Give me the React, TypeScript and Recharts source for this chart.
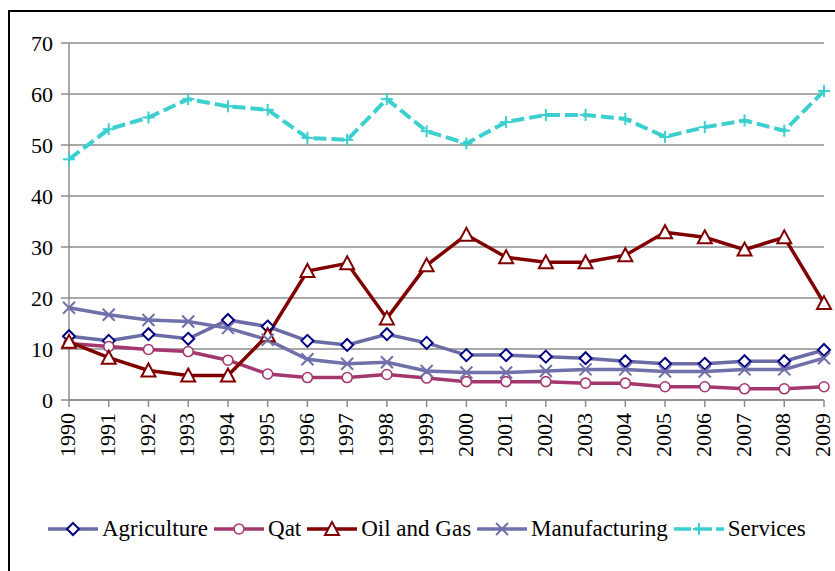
import React from 'react';
import { LineChart, Line, XAxis, YAxis, CartesianGrid, Legend } from 'recharts';

const years = ['1990', '1991', '1992', '1993', '1994', '1995', '1996', '1997', '1998', '1999',
  '2000', '2001', '2002', '2003', '2004', '2005', '2006', '2007', '2008', '2009'];

const agriculture = [12.5, 11.6, 12.9, 12.0, 15.7, 14.4, 11.6, 10.8, 12.9, 11.2,
  8.8, 8.8, 8.5, 8.2, 7.6, 7.1, 7.1, 7.6, 7.6, 9.8];
const qat = [11.1, 10.5, 9.9, 9.5, 7.8, 5.1, 4.4, 4.4, 5.0, 4.3,
  3.6, 3.6, 3.6, 3.3, 3.3, 2.6, 2.6, 2.2, 2.2, 2.6];
const oilAndGas = [11.4, 8.3, 5.8, 4.8, 4.8, 12.7, 25.3, 26.8, 16.0, 26.4,
  32.4, 28.0, 27.0, 27.0, 28.4, 32.9, 31.9, 29.5, 31.9, 19.0];
const manufacturing = [18.1, 16.7, 15.7, 15.4, 14.1, 11.8, 8.0, 7.1, 7.4, 5.7,
  5.4, 5.4, 5.7, 6.0, 6.0, 5.6, 5.6, 6.0, 6.0, 8.2];
const services = [47.2, 53.1, 55.4, 59.0, 57.6, 56.9, 51.4, 51.0, 59.0, 52.7,
  50.3, 54.5, 55.9, 55.9, 55.1, 51.6, 53.5, 54.8, 52.8, 60.6];

const yTicks = [0, 10, 20, 30, 40, 50, 60, 70];

const chartData = years.map((year, i) => ({
  year,
  agriculture: agriculture[i],
  qat: qat[i],
  oil: oilAndGas[i],
  manufacturing: manufacturing[i],
  services: services[i],
}));

const FONT = "'Liberation Serif', 'DejaVu Serif', serif";

type MarkerKind = 'diamond' | 'circle' | 'triangle' | 'cross' | 'plus';

const Marker = ({ kind, cx, cy, color }: { kind: MarkerKind; cx: number; cy: number; color: string }) => {
  if (kind === 'diamond') {
    return <polygon points={`${cx},${cy - 6} ${cx + 6},${cy} ${cx},${cy + 6} ${cx - 6},${cy}`} fill="#fff" stroke={color} strokeWidth={2} />;
  }
  if (kind === 'circle') {
    return <circle cx={cx} cy={cy} r={5} fill="#fff" stroke={color} strokeWidth={1.6} />;
  }
  if (kind === 'triangle') {
    return <polygon points={`${cx},${cy - 7} ${cx + 7},${cy + 6} ${cx - 7},${cy + 6}`} fill="#fff" stroke={color} strokeWidth={2} />;
  }
  if (kind === 'cross') {
    return (
      <g stroke={color} strokeWidth={2}>
        <line x1={cx - 6} y1={cy - 6} x2={cx + 6} y2={cy + 6} />
        <line x1={cx - 6} y1={cy + 6} x2={cx + 6} y2={cy - 6} />
      </g>
    );
  }
  return (
    <g stroke={color} strokeWidth={2}>
      <line x1={cx - 6} y1={cy} x2={cx + 6} y2={cy} />
      <line x1={cx} y1={cy - 6} x2={cx} y2={cy + 6} />
    </g>
  );
};

const seriesList = [
  { key: 'agriculture', name: 'Agriculture', line: '#6B6BA6', marker: '#000080', kind: 'diamond' as MarkerKind, dash: undefined },
  { key: 'qat', name: 'Qat', line: '#A3386F', marker: '#A3386F', kind: 'circle' as MarkerKind, dash: undefined },
  { key: 'oil', name: 'Oil and Gas', line: '#800000', marker: '#800000', kind: 'triangle' as MarkerKind, dash: undefined },
  { key: 'manufacturing', name: 'Manufacturing', line: '#7070AA', marker: '#7070AA', kind: 'cross' as MarkerKind, dash: undefined },
  { key: 'services', name: 'Services', line: '#3CCFCF', marker: '#3CCFCF', kind: 'plus' as MarkerKind, dash: '13 5' },
];

// rotated year labels, reading bottom-to-top
const YearTick = ({ x, y, payload }: any) => (
  <text
    x={x}
    y={y}
    transform={`rotate(-90, ${x}, ${y})`}
    textAnchor="end"
    dy="0.28em"
    style={{ fontFamily: FONT, fontSize: 22 }}
    fill="#000"
  >
    {payload.value}
  </text>
);

const ChartLegend = () => (
  <div style={{ display: 'flex', alignItems: 'center', fontFamily: FONT, fontSize: 23, color: '#000', whiteSpace: 'nowrap' }}>
    {seriesList.map((s) => (
      <div key={s.key} style={{ display: 'flex', alignItems: 'center', marginRight: 6 }}>
        <svg width={50} height={20} style={{ marginRight: 4 }}>
          <line x1={0} y1={10} x2={50} y2={10} stroke={s.line} strokeWidth={3.5} strokeDasharray={s.dash ? '17 4' : undefined} />
          <Marker kind={s.kind} cx={25} cy={10} color={s.marker} />
        </svg>
        <span>{s.name}</span>
      </div>
    ))}
  </div>
);

const App: React.FC = () => {
  return (
    <div style={{ position: 'absolute', left: 0, top: 0, width: 835, height: 571, overflow: 'hidden', background: '#fff', fontFamily: FONT }}>
      <div style={{ position: 'absolute', left: 8, top: 10, width: 900, height: 700, border: '2px solid #000', boxSizing: 'border-box' }} />
      <div style={{ position: 'absolute', left: 0, top: 0 }}>
        <LineChart width={835} height={571} data={chartData} margin={{ top: 43, right: 11, left: 9, bottom: 111 }}>
          <CartesianGrid vertical={false} stroke="#8C8C8C" strokeWidth={1.5} />
          <XAxis
            dataKey="year"
            interval={0}
            height={60}
            axisLine={{ stroke: '#8C8C8C', strokeWidth: 1.5 }}
            tickLine={{ stroke: '#8C8C8C', strokeWidth: 1.5 }}
            tickSize={7}
            tickMargin={6}
            tick={<YearTick />}
          />
          <YAxis
            domain={[0, 70]}
            ticks={yTicks}
            width={60}
            axisLine={{ stroke: '#8C8C8C', strokeWidth: 1.5 }}
            tickLine={{ stroke: '#8C8C8C', strokeWidth: 1.5 }}
            tickSize={8}
            tickMargin={8}
            tick={{ style: { fontFamily: FONT }, fontSize: 22, fill: '#000' }}
          />
          <Legend
            layout="horizontal"
            verticalAlign="middle"
            align="center"
            content={<ChartLegend />}
            wrapperStyle={{ position: 'absolute', left: 48, top: 516, width: 790, height: 26 }}
          />
          {seriesList.map((s) => (
            <Line
              key={s.key}
              type="linear"
              dataKey={s.key}
              name={s.name}
              stroke={s.line}
              strokeWidth={s.kind === 'plus' ? 4 : 3.5}
              strokeDasharray={s.dash}
              isAnimationActive={false}
              dot={(p: any) => <Marker key={`${s.key}-${p.index}`} kind={s.kind} cx={p.cx} cy={p.cy} color={s.marker} />}
              activeDot={false}
            />
          ))}
        </LineChart>
      </div>
    </div>
  );
};

export default App;
